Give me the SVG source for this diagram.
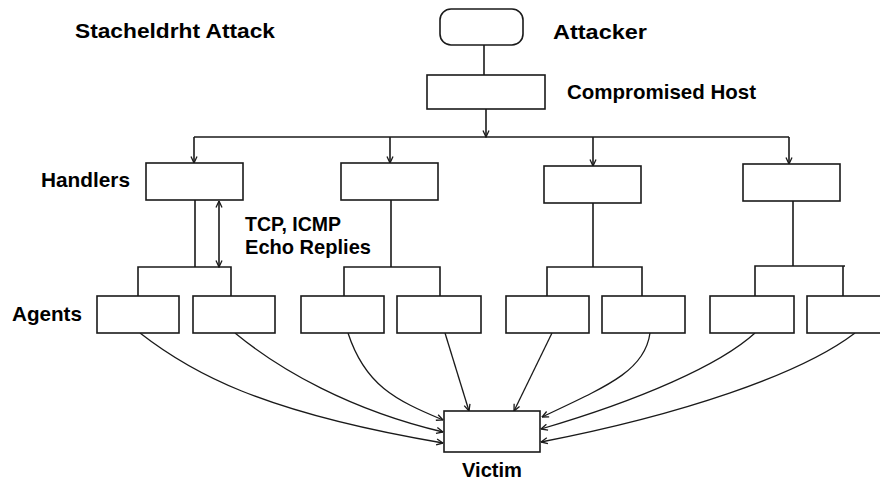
<svg xmlns="http://www.w3.org/2000/svg" width="880" height="481" viewBox="0 0 880 481">
<style>
.box{fill:#fff;stroke:#1a1a1a;stroke-width:1.6}
.ln{fill:none;stroke:#1a1a1a;stroke-width:1.6}
.cv{fill:none;stroke:#1a1a1a;stroke-width:1.3}
.lbl{font-family:"Liberation Sans",Arial,sans-serif;font-weight:bold;font-size:21px;fill:#000}
</style>
<defs>
<marker id="ah" viewBox="0 0 8 8" refX="7.5" refY="4" markerWidth="8" markerHeight="8" markerUnits="userSpaceOnUse" orient="auto-start-reverse">
<path d="M1,1 L7.5,4 L1,7" fill="none" stroke="#1a1a1a" stroke-width="1.3"/>
</marker>
</defs>
<rect width="880" height="481" fill="#fff"/>
<text class="lbl" x="75" y="38" textLength="200" lengthAdjust="spacingAndGlyphs">Stacheldrht Attack</text>
<g id="connectors">
<line class="ln" x1="484" y1="45" x2="484" y2="75"/>
<line class="ln" x1="486" y1="109" x2="486" y2="137" marker-end="url(#ah)"/>
<line class="ln" x1="194" y1="137" x2="789" y2="137"/>
<line class="ln" x1="194" y1="137" x2="194" y2="163" marker-end="url(#ah)"/>
<line class="ln" x1="390" y1="137" x2="390" y2="163" marker-end="url(#ah)"/>
<line class="ln" x1="593" y1="137" x2="593" y2="166" marker-end="url(#ah)"/>
<line class="ln" x1="789" y1="137" x2="789" y2="164" marker-end="url(#ah)"/>
<path class="ln" d="M195,200 V267 M138,296 V267 H231 V296"/>
<path class="ln" d="M391,200 V267 M344,296 V267 H440 V296"/>
<path class="ln" d="M593,203 V267 M547,296 V267 H642 V296"/>
<path class="ln" d="M793,201 V266 M755,296 V266 H845 M843,266 V296"/>
<line class="ln" x1="219" y1="201" x2="219" y2="267" marker-start="url(#ah)" marker-end="url(#ah)"/>
<path class="cv" d="M140,333 C190,372 260,412 443,443" marker-end="url(#ah)"/>
<path class="cv" d="M235,333 C280,370 350,410 443,432" marker-end="url(#ah)"/>
<path class="cv" d="M348,333 C365,385 395,400 443,420" marker-end="url(#ah)"/>
<path class="cv" d="M445,333 L469,411" marker-end="url(#ah)"/>
<path class="cv" d="M552,333 L514,411" marker-end="url(#ah)"/>
<path class="cv" d="M650,333 C645,370 610,385 542,417" marker-end="url(#ah)"/>
<path class="cv" d="M755,333 C720,365 640,400 541,429" marker-end="url(#ah)"/>
<path class="cv" d="M855,333 C800,375 680,415 541,442" marker-end="url(#ah)"/>
</g>
<g id="attacker">
<rect class="box" x="440" y="9" width="83" height="36" rx="11"/>
<text class="lbl" x="553" y="39" textLength="94" lengthAdjust="spacingAndGlyphs">Attacker</text>
</g>
<g id="compromised-host">
<rect class="box" x="427" y="75" width="118" height="34"/>
<text class="lbl" x="567" y="99" textLength="189" lengthAdjust="spacingAndGlyphs">Compromised Host</text>
</g>
<g id="handlers-label"><text class="lbl" x="41" y="187" textLength="89" lengthAdjust="spacingAndGlyphs">Handlers</text></g>
<g id="handler1"><rect class="box" x="146" y="163" width="97" height="37"/></g>
<g id="handler2"><rect class="box" x="341" y="163" width="97" height="37"/></g>
<g id="handler3"><rect class="box" x="544" y="166" width="97" height="37"/></g>
<g id="handler4"><rect class="box" x="743" y="164" width="97" height="37"/></g>
<g id="tcp-label">
<text class="lbl" x="245" y="231" textLength="96" lengthAdjust="spacingAndGlyphs">TCP, ICMP</text>
<text class="lbl" x="245" y="254" textLength="126" lengthAdjust="spacingAndGlyphs">Echo Replies</text>
</g>
<g id="agents-label"><text class="lbl" x="12" y="321" textLength="70" lengthAdjust="spacingAndGlyphs">Agents</text></g>
<g id="agent1"><rect class="box" x="97" y="296" width="82" height="37"/></g>
<g id="agent2"><rect class="box" x="193" y="296" width="82" height="37"/></g>
<g id="agent3"><rect class="box" x="301" y="296" width="83" height="37"/></g>
<g id="agent4"><rect class="box" x="397" y="296" width="84" height="37"/></g>
<g id="agent5"><rect class="box" x="506" y="296" width="83" height="37"/></g>
<g id="agent6"><rect class="box" x="602" y="296" width="83" height="37"/></g>
<g id="agent7"><rect class="box" x="710" y="296" width="84" height="37"/></g>
<g id="agent8"><rect class="box" x="807" y="296" width="84" height="37"/></g>
<g id="victim">
<rect class="box" x="444" y="411" width="96" height="41"/>
<text class="lbl" x="462" y="477" textLength="60" lengthAdjust="spacingAndGlyphs">Victim</text>
</g>
</svg>
